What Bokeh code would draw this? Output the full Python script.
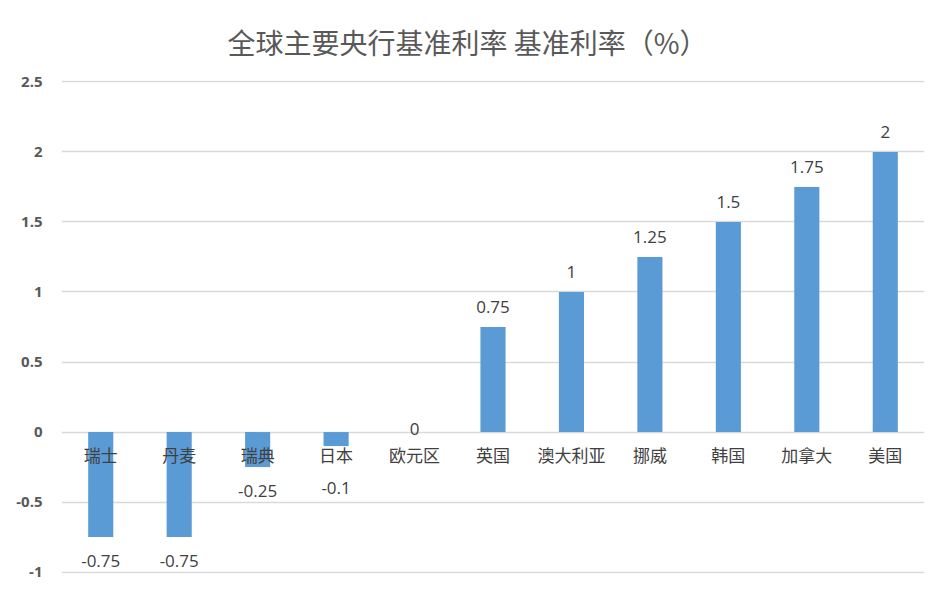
from bokeh.plotting import figure
from bokeh.models import ColumnDataSource, FixedTicker, NumeralTickFormatter, Range1d
from bokeh.core.properties import value
from bokeh.embed import file_html
from bokeh.resources import INLINE

# 全球主要央行基准利率
banks = ["瑞士", "丹麦", "瑞典", "日本", "欧元区", "英国", "澳大利亚", "挪威", "韩国", "加拿大", "美国"]
rates = [-0.75, -0.75, -0.25, -0.1, 0, 0.75, 1, 1.25, 1.5, 1.75, 2]
rate_labels = ["-0.75", "-0.75", "-0.25", "-0.1", "0", "0.75", "1", "1.25", "1.5", "1.75", "2"]
y_ticks = [-1, -0.5, 0, 0.5, 1, 1.5, 2, 2.5]

cjk = "Noto Sans CJK SC"

# value labels: above positive bars, below negative ones,
# short negative bars push the label clear of the category name
offs = []
for r in rates:
    if r > 0:
        offs.append(-20)
    elif r < 0:
        offs.append(max(24, 56 + r * 140))
    else:
        offs.append(-3)

src = ColumnDataSource(data=dict(bank=banks, rate=rates, lab=rate_labels,
                                 off=offs, zero=[0] * len(banks)))

p = figure(x_range=banks, width=945, height=590, output_backend="svg",
           toolbar_location=None, min_border_left=61, min_border_right=21,
           min_border_top=80, min_border_bottom=17,
           title="全球主要央行基准利率 基准利率（%）")
p.y_range = Range1d(-1.01, 2.51)
p.x_range.range_padding = 0

p.title.align = "left"
p.title.offset = 166
p.title.text_font = cjk
p.title.text_font_size = "28px"
p.title.text_font_style = "normal"
p.title.text_color = "#595959"
p.title.standoff = 38

p.vbar(x="bank", top="rate", bottom=0, width=0.32, source=src,
       fill_color="#5b9bd5", line_color=None)

p.text(x="bank", y="rate", text="lab", source=src, y_offset="off",
       text_align="center", text_baseline="middle", text_font=value("Open Sans"),
       text_font_size="17px", text_color="#404040")

p.text(x="bank", y="zero", text="bank", source=src, y_offset=22,
       text_align="center", text_baseline="middle", text_font=value(cjk),
       text_font_size="17px", text_color="#404040")

p.xaxis.visible = False
p.xgrid.grid_line_color = None
p.ygrid.grid_line_color = "#d9d9d9"
p.ygrid.grid_line_width = 1.3
p.yaxis.ticker = FixedTicker(ticks=y_ticks)
p.yaxis.formatter = NumeralTickFormatter(format="0.[0]")
p.yaxis.axis_line_color = None
p.yaxis.major_tick_line_color = None
p.yaxis.minor_tick_line_color = None
p.yaxis.major_label_standoff = 13
p.yaxis.major_label_text_font = "Open Sans"
p.yaxis.major_label_text_font_style = "bold"
p.yaxis.major_label_text_font_size = "15px"
p.yaxis.major_label_text_color = "#595959"
p.outline_line_color = None

open("out.html", "w").write(file_html(p, INLINE))
